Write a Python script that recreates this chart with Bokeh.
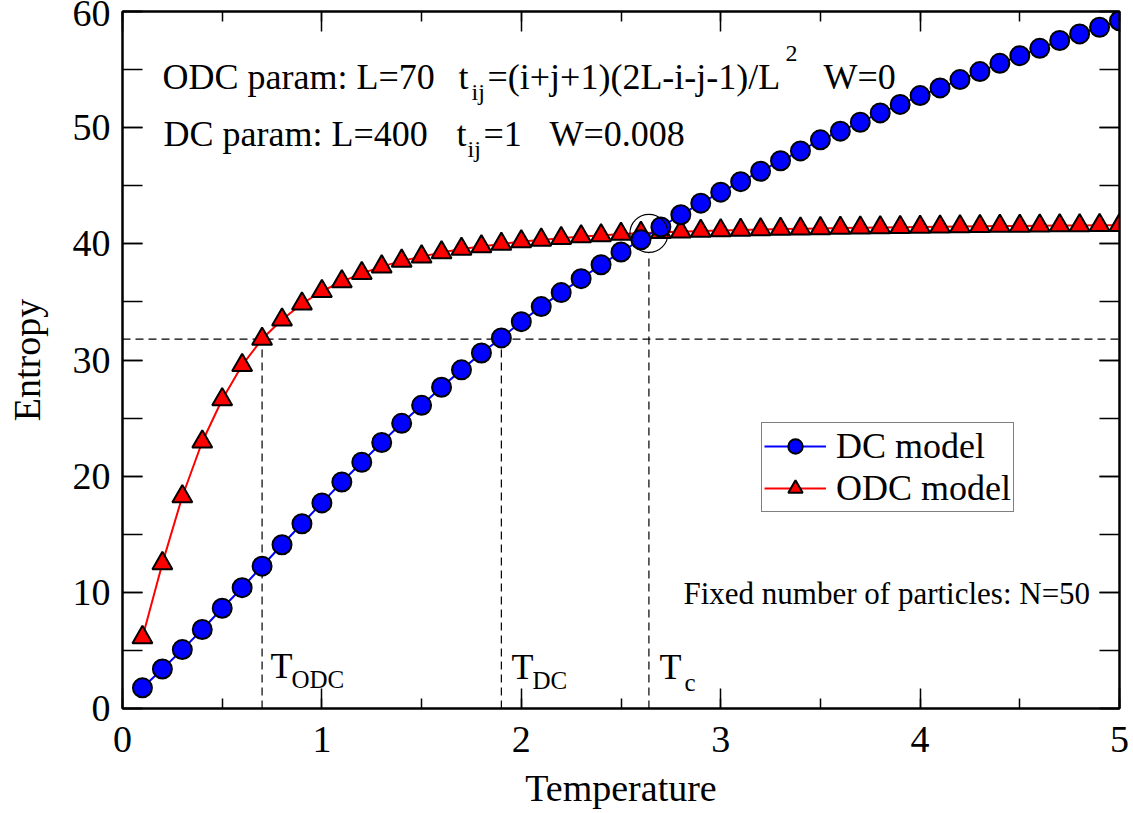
from bokeh.plotting import figure
from bokeh.models import (LinearAxis, Range1d, Legend, LegendItem, Label,
                          SingleIntervalTicker, CustomJSTickFormatter)
from bokeh.embed import file_html
from bokeh.resources import INLINE

# ---------------- data ----------------
temperature = [0.1, 0.2, 0.3, 0.4, 0.5, 0.6, 0.7, 0.8, 0.9, 1.0,
               1.1, 1.2, 1.3, 1.4, 1.5, 1.6, 1.7, 1.8, 1.9, 2.0,
               2.1, 2.2, 2.3, 2.4, 2.5, 2.6, 2.7, 2.8, 2.9, 3.0,
               3.1, 3.2, 3.3, 3.4, 3.5, 3.6, 3.7, 3.8, 3.9, 4.0,
               4.1, 4.2, 4.3, 4.4, 4.5, 4.6, 4.7, 4.8, 4.9, 5.0]

entropy_dc = [1.78, 3.40, 5.07, 6.80, 8.63, 10.40, 12.25, 14.10, 15.90, 17.70,
              19.50, 21.20, 22.90, 24.55, 26.10, 27.65, 29.15, 30.60, 31.90, 33.30,
              34.60, 35.80, 37.00, 38.20, 39.30, 40.35, 41.45, 42.50, 43.50, 44.45,
              45.35, 46.25, 47.15, 48.00, 48.95, 49.70, 50.47, 51.27, 52.00, 52.76,
              53.42, 54.14, 54.83, 55.54, 56.20, 56.83, 57.50, 58.07, 58.64, 59.20]

entropy_odc = [6.12, 12.49, 18.25, 22.96, 26.60, 29.55, 31.80, 33.46, 34.84, 35.92,
               36.75, 37.46, 38.04, 38.53, 38.90, 39.26, 39.55, 39.77, 39.98, 40.20,
               40.34, 40.48, 40.63, 40.71, 40.84, 40.92, 40.99, 41.05, 41.10, 41.15,
               41.19, 41.23, 41.27, 41.30, 41.33, 41.36, 41.39, 41.41, 41.43, 41.45,
               41.47, 41.49, 41.51, 41.53, 41.54, 41.56, 41.57, 41.58, 41.60, 41.61]

series_names = ["DC model", "ODC model"]
x_ticks_interval = 1
y_ticks_interval = 10

# reference markers
T_ODC = 0.70
T_DC = 1.90
T_C = 2.64
S_REF = 31.8
S_C = 40.9
S_C_LINE_TOP = 39.2

FONT = "Liberation Serif"

# ---------------- figure ----------------
p = figure(width=1133, height=813, output_backend="svg", toolbar_location=None,
           x_range=Range1d(0, 5), y_range=Range1d(0, 60),
           min_border_left=122, min_border_right=14, min_border_top=11,
           min_border_bottom=105)
p.xgrid.visible = False
p.ygrid.visible = False
p.outline_line_color = "black"
p.outline_line_width = 2
p.background_fill_color = "white"
p.border_fill_color = "white"

bottom_axis = p.below[0]
left_axis = p.left[0]


def px2x(px):
    return (px - 122) / 199.4


def py2y(py):
    return (708.1 - py) / 11.62


xt = SingleIntervalTicker(interval=x_ticks_interval, num_minor_ticks=2)
yt = SingleIntervalTicker(interval=y_ticks_interval, num_minor_ticks=2)

bottom_axis.ticker = xt
left_axis.ticker = yt
bottom_axis.axis_label = "Temperature"
left_axis.axis_label = "Entropy"

blank = CustomJSTickFormatter(code="return ''")
top_axis = LinearAxis(ticker=xt, formatter=blank)
right_axis = LinearAxis(ticker=yt, formatter=blank)
p.add_layout(top_axis, "above")
p.add_layout(right_axis, "right")

for ax in [bottom_axis, top_axis]:
    ax.major_tick_in = 20
    ax.major_tick_out = 0
    ax.minor_tick_in = 10
    ax.minor_tick_out = 0
for ax in [left_axis, right_axis]:
    ax.major_tick_in = 20
    ax.major_tick_out = 0
    ax.minor_tick_in = 20
    ax.minor_tick_out = 0

for ax in [bottom_axis, top_axis, left_axis, right_axis]:
    ax.axis_line_width = 2
    ax.axis_line_color = "black"
    ax.major_tick_line_width = 1.5
    ax.minor_tick_line_width = 1.5
    ax.major_tick_line_color = "black"
    ax.minor_tick_line_color = "black"
    ax.major_label_text_font = FONT
    ax.major_label_text_font_size = "38px"
    ax.major_label_text_color = "black"
    ax.axis_label_text_font = FONT
    ax.axis_label_text_font_size = "38px"
    ax.axis_label_text_font_style = "normal"
    ax.axis_label_text_color = "black"

top_axis.major_label_text_font_size = "0px"
right_axis.major_label_text_font_size = "0px"
top_axis.major_label_standoff = 0
right_axis.major_label_standoff = 0

bottom_axis.major_label_standoff = 18
bottom_axis.axis_label_standoff = 12
left_axis.major_label_standoff = 12
left_axis.axis_label_standoff = 22

# ---------------- reference dashed lines ----------------
dash = "8 5"
p.line([0, 5], [S_REF, S_REF], line_color="black", line_width=1.2, line_dash=dash)
p.line([T_ODC, T_ODC], [0, S_REF], line_color="black", line_width=1.2, line_dash=dash)
p.line([T_DC, T_DC], [0, S_REF], line_color="black", line_width=1.2, line_dash=dash)
p.line([T_C, T_C], [0, S_C_LINE_TOP], line_color="black", line_width=1.2, line_dash=dash)

# ---------------- series ----------------
odc_line = p.line(temperature, entropy_odc, line_color="#ff0000", line_width=2)
odc_pts = p.scatter(temperature, entropy_odc, marker="triangle", size=20,
                    fill_color="#ff0000", line_color="black", line_width=2)
dc_line = p.line(temperature, entropy_dc, line_color="#0000ff", line_width=2)
dc_pts = p.scatter(temperature, entropy_dc, marker="circle", size=19,
                   fill_color="#0000ff", line_color="black", line_width=2)

# crossing circle
p.scatter([T_C], [S_C], marker="circle", size=38, fill_color=None,
          line_color="black", line_width=1.2)

# ---------------- legend ----------------
legend = Legend(items=[LegendItem(label=series_names[0], renderers=[dc_line, dc_pts]),
                       LegendItem(label=series_names[1], renderers=[odc_line, odc_pts])],
                location=(639, 196), label_text_font=FONT, label_text_font_size="36px",
                label_text_color="black",
                glyph_width=62, glyph_height=36, label_standoff=10, padding=2,
                spacing=-12, margin=0, border_line_color="black", border_line_width=1.5,
                background_fill_color="white", background_fill_alpha=1.0)
p.add_layout(legend)


# ---------------- text annotations ----------------
def txt(s, px, py, size):
    p.add_layout(Label(x=px2x(px), y=py2y(py), text=s, text_font=FONT,
                       text_font_size=f"{size}px", text_color="black",
                       text_baseline="alphabetic", text_align="left"))


# line 1
txt("ODC param: L=70", 162, 76.7, 36)
txt("t", 458, 76.7, 36)
txt("ij", 471, 91, 24)
txt("=(i+j+1)(2L-i-j-1)/L", 487, 76.7, 36)
txt("2", 785, 53, 24)
txt("W=0", 823, 76.7, 36)
# line 2
txt("DC param: L=400", 163, 133.3, 36)
txt("t", 456, 133.3, 36)
txt("ij", 467, 148, 24)
txt("=1", 483, 133.3, 36)
txt("W=0.008", 549, 133.3, 36)

txt("Fixed number of particles: N=50", 683, 593, 31)

txt("T", 270, 666, 36)
txt("ODC", 291, 679, 25)
txt("T", 511, 667, 36)
txt("DC", 532, 680, 25)
txt("T", 659, 667, 36)
txt("c", 684, 682, 25)

open("out.html", "w").write(file_html(p, INLINE))
